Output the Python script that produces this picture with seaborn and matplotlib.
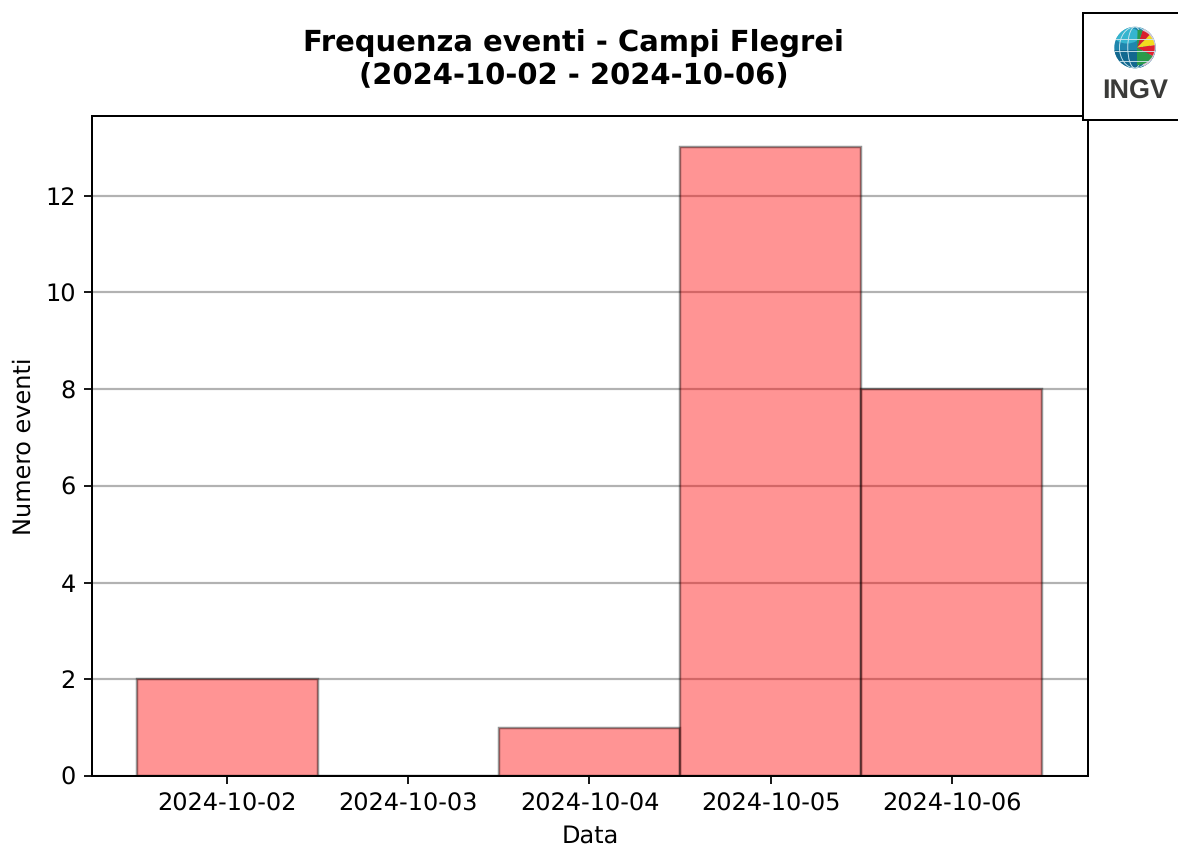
import matplotlib
matplotlib.use("Agg")
import matplotlib.pyplot as plt
import seaborn as sns
import pandas as pd
from matplotlib.patches import Circle, Wedge, Rectangle, Ellipse

dates = ["2024-10-02", "2024-10-03", "2024-10-04", "2024-10-05", "2024-10-06"]
counts = [2, 0, 1, 13, 8]
title = "Frequenza eventi - Campi Flegrei\n(2024-10-02 - 2024-10-06)"
ylabel = "Numero eventi"
xlabel = "Data"

W, H, DPI = 1178, 846, 160
sns.set_theme(style="white", rc={"font.family": "DejaVu Sans"})
plt.rcParams.update({"font.size": 10.7, "text.color": "black", "axes.labelcolor": "black",
                     "xtick.color": "black", "ytick.color": "black",
                     "text.hinting": "none", "text.hinting_factor": 1})
fig = plt.figure(figsize=(W / DPI, H / DPI), dpi=DPI)
ax = fig.add_axes([92 / W, 1 - 776 / H, (1088 - 92) / W, (776 - 116) / H])

df = pd.DataFrame({"date": dates, "count": counts})
ax.set_axisbelow(True)
ax.yaxis.grid(True, color="black", alpha=0.3, linewidth=1.0)
sns.barplot(data=df, x="date", y="count", ax=ax, width=1.0, color="red", saturation=1,
            alpha=0.42, edgecolor="black", linewidth=1.0)
for b in ax.patches:
    b.set_facecolor((1, 0, 0, 0.42))
    b.set_edgecolor((0, 0, 0, 0.45))
    b.set_linewidth(1.1)

ax.set_xlim(-0.747, 4.753)
ax.set_ylim(0, 13.65)
ax.set_yticks(range(0, 13, 2))
ax.tick_params(axis="both", which="major", labelsize=10.7, length=3.5, width=0.8,
               bottom=True, left=True, pad=3.7, color="black")
ax.set_xlabel(xlabel, fontsize=10.7, labelpad=4.0)
ax.set_ylabel(ylabel, fontsize=10.7, labelpad=4.3)
for s in ax.spines.values():
    s.set_visible(True)
    s.set_color("black")
    s.set_linewidth(0.9)

fig.text((92 + 1055) / 2 / W, 1 - 59 / H, title, ha="center", va="center",
         fontsize=12.9, fontweight="bold", linespacing=1.17, color="black")

# logo box with globe, in an overlay axes measured in figure pixels
lg = fig.add_axes([0, 0, 1, 1], facecolor="none")
lg.set_xlim(0, W)
lg.set_ylim(H, 0)
lg.axis("off")
lg.add_patch(Rectangle((1082.5, 12.5), 110, 107.5, facecolor="white", edgecolor="black",
                       linewidth=0.9))
cx, cy, r = 1135, 47.5, 20.7
globe = Circle((cx, cy), r, facecolor="#1f86ad", edgecolor="none")
lg.add_patch(globe)
lower = Rectangle((cx - r, cy + 2), 2 * r, r, facecolor="#12688f", edgecolor="none")
lg.add_patch(lower)
lower.set_clip_path(globe)
upper = Ellipse((cx - 8, cy - 12), 26, 16, facecolor="#35b5cf", edgecolor="none")
lg.add_patch(upper)
upper.set_clip_path(globe)
for w in (0.35, 0.75):
    e = Ellipse((cx, cy), 2 * r * w, 2 * r, facecolor="none", edgecolor="#cfe6ee", linewidth=0.4)
    lg.add_patch(e)
    e.set_clip_path(globe)
for dy in (-9, 3, 13):
    ln, = lg.plot([cx - r, cx + r], [cy + dy, cy + dy], color="#cfe6ee", lw=0.4)
    ln.set_clip_path(globe)
# coloured sector on the right of the globe; angles are screen angles, counter-clockwise from east
edge = Wedge((cx, cy), r, -65, 65, width=4.5, facecolor="#d9c7d6", edgecolor="none")
lg.add_patch(edge)
for theta1, theta2, col in [(-90, -28, "#2a9a4a"), (-28, 8, "#e02030"), (8, 45, "#f2dc1e"),
                            (45, 72, "#d81f2e"), (72, 88, "#2a9a4a")]:
    wd = Wedge((cx + 2, cy), r - 3, -theta2, -theta1, facecolor=col, edgecolor="none")
    lg.add_patch(wd)
    wd.set_clip_path(globe)
lg.text(1135.5, 92, "INGV", ha="center", va="center", fontsize=12, fontweight="bold",
        family="Liberation Sans", color="#3a3a38")

fig.savefig("out.png", dpi=DPI)
